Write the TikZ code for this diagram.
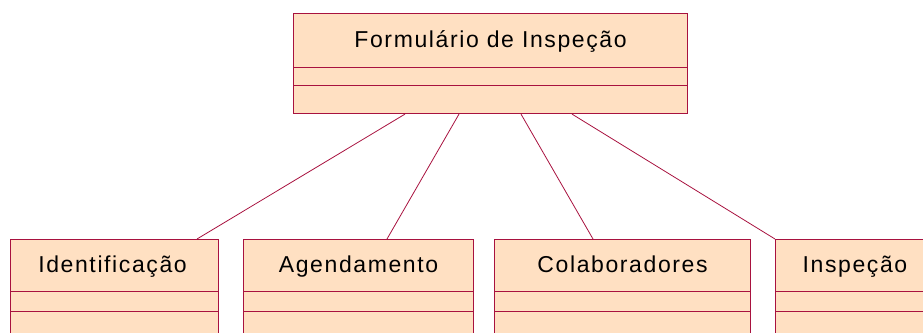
\documentclass[tikz,border=0pt]{standalone}
\usepackage{fontspec}
\setmainfont{Liberation Sans}[LetterSpace=7]
\usetikzlibrary{calc}
\definecolor{cfill}{HTML}{FFE0C2}
\definecolor{cline}{HTML}{A8123F}
\begin{document}
\begin{tikzpicture}[x=1pt,y=-1pt,
  classbox/.style={draw=cline, fill=cfill, line width=1.1pt, rectangle, inner sep=0pt, anchor=north west},
  titletext/.style={font=\fontsize{23}{27}\selectfont, text=black, inner sep=0pt, anchor=base},
  divider/.style={draw=cline, line width=0.9pt},
  link/.style={draw=cline, line width=0.8pt}]
\useasboundingbox (0,0) rectangle (923,332);
\clip (0,0) rectangle (923,332);

% class boxes
\node[classbox, minimum width=394pt, minimum height=100pt] (form) at (293,13) {};
\node[classbox, minimum width=208pt, minimum height=120pt] (ident) at (10,239) {};
\node[classbox, minimum width=230pt, minimum height=120pt] (agenda) at (243,239) {};
\node[classbox, minimum width=256pt, minimum height=120pt] (colab) at (494,239) {};
\node[classbox, minimum width=200pt, minimum height=120pt] (insp) at (775,239) {};

% compartments
\draw[divider] ($(form.north west)+(0,54)$) -- ($(form.north east)+(0,54)$);
\draw[divider] ($(form.north west)+(0,72)$) -- ($(form.north east)+(0,72)$);
\foreach \b in {ident,agenda,colab,insp}{
  \draw[divider] ($(\b.north west)+(0,52)$) -- ($(\b.north east)+(0,52)$);
  \draw[divider] ($(\b.north west)+(0,72)$) -- ($(\b.north east)+(0,72)$);
}

% titles
\node[titletext] (formt) at ($(form.north)+(0,34)$) {Formulário de Inspeção};
\node[titletext] (identt) at ($(ident.north)+(-2,33)$) {Identificação};
\node[titletext] (agendat) at ($(agenda.north)+(0,33)$) {Agendamento};
\node[titletext] (colabt) at ($(colab.north)+(0,33)$) {Colaboradores};
\node[titletext] (inspt) at ($(insp.north west)+(80,33)$) {Inspeção};

% connectors
\draw[link] ($(form.south west)+(112,0)$) -- ($(ident.north west)+(187,0)$);
\draw[link] ($(form.south west)+(166,0)$) -- ($(agenda.north west)+(144,0)$);
\draw[link] ($(form.south west)+(228,0)$) -- ($(colab.north west)+(99,0)$);
\draw[link] ($(form.south west)+(279,0)$) -- (insp.north west);
\end{tikzpicture}
\end{document}
